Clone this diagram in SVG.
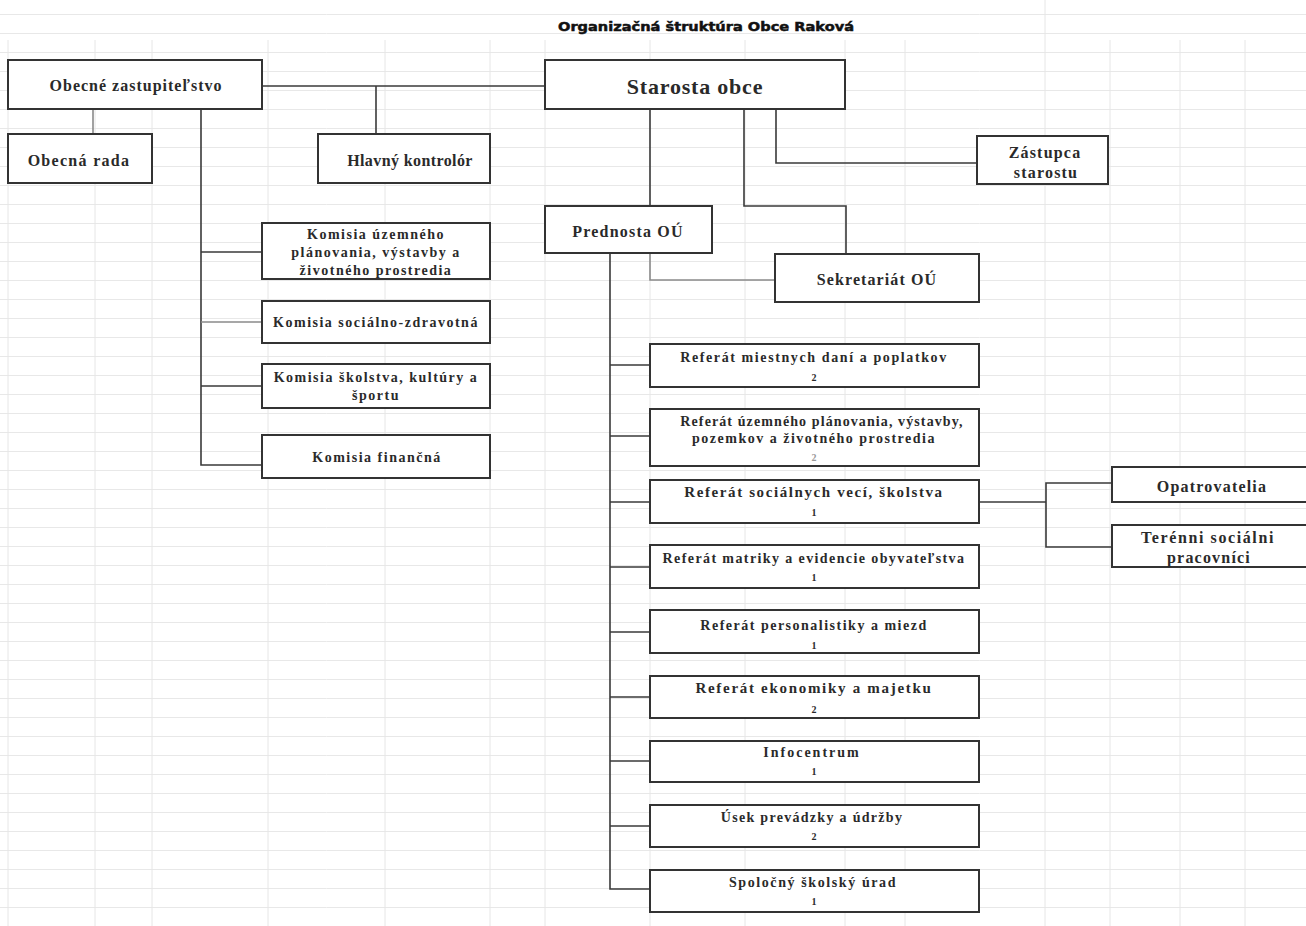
<svg xmlns="http://www.w3.org/2000/svg" width="1306" height="926" viewBox="0 0 1306 926">
<defs>
<pattern id="hgrid" x="0" y="14" width="1306" height="19" patternUnits="userSpaceOnUse">
<line x1="0" y1="0.5" x2="1306" y2="0.5" stroke="#e8e8e8" stroke-width="1"/>
</pattern>
</defs>
<style>
.box{fill:#fff;stroke:#333;stroke-width:2}
.cn{fill:none;stroke:#3a3a3a;stroke-width:1.6}
.cl{fill:none;stroke:#8a8a8a;stroke-width:1.6}
.vg{stroke:#e6e6e6;stroke-width:1}
text{font-family:"Liberation Serif","Times New Roman",serif;font-weight:bold;fill:#2a2a2a;text-anchor:middle;dominant-baseline:central}
.t16{font-size:16px;letter-spacing:1px}
.t22{font-size:22px;letter-spacing:0.8px}
.k14{font-size:14px;letter-spacing:1.5px}
.r14{font-size:14px;letter-spacing:1.5px}
.r15{font-size:15px;letter-spacing:1.6px}
.n{font-size:10px}
.title{font-family:"DejaVu Sans","Liberation Sans",sans-serif;font-size:12.5px;font-weight:900;fill:#111;stroke:#111;stroke-width:0.5}
</style>
<rect width="1306" height="926" fill="#fff"/>
<g id="grid">
<rect x="0" y="0" width="1306" height="926" fill="url(#hgrid)"/>
<line class="vg" x1="8" y1="40" x2="8" y2="926"/>
<line class="vg" x1="95" y1="40" x2="95" y2="926"/>
<line class="vg" x1="152" y1="40" x2="152" y2="926"/>
<line class="vg" x1="268" y1="40" x2="268" y2="926"/>
<line class="vg" x1="385" y1="40" x2="385" y2="926"/>
<line class="vg" x1="490" y1="40" x2="490" y2="926"/>
<line class="vg" x1="545" y1="40" x2="545" y2="926"/>
<line class="vg" x1="650" y1="40" x2="650" y2="926"/>
<line class="vg" x1="745" y1="40" x2="745" y2="926"/>
<line class="vg" x1="845" y1="40" x2="845" y2="926"/>
<line class="vg" x1="905" y1="40" x2="905" y2="926"/>
<line class="vg" x1="1045" y1="0" x2="1045" y2="926"/>
<line class="vg" x1="1110" y1="40" x2="1110" y2="926"/>
<line class="vg" x1="1180" y1="40" x2="1180" y2="926"/>
<line class="vg" x1="1245" y1="40" x2="1245" y2="926"/>
</g>
<text class="title" x="706" y="26" textLength="296" lengthAdjust="spacingAndGlyphs">Organizačná štruktúra Obce Raková</text>
<g id="connectors">
<path class="cn" d="M262 86H545"/>
<path class="cn" d="M376 86V134"/>
<path class="cl" d="M93 109V134"/>
<path class="cn" d="M201 109V465H262"/>
<path class="cn" d="M201 252H262"/>
<path class="cl" d="M201 322H262"/>
<path class="cn" d="M201 386H262"/>
<path class="cn" d="M650 109V206"/>
<path class="cn" d="M744 109V206H846V254"/>
<path class="cn" d="M776 109V163H977"/>
<path class="cl" d="M650 253V280H775"/>
<path class="cn" d="M610 253V889H650"/>
<path class="cn" d="M610 365H650"/>
<path class="cn" d="M610 436H650"/>
<path class="cn" d="M610 502H650"/>
<path class="cn" d="M610 567H650"/>
<path class="cn" d="M610 632H650"/>
<path class="cn" d="M610 697H650"/>
<path class="cn" d="M610 761H650"/>
<path class="cn" d="M610 826H650"/>
<path class="cn" d="M979 502H1046"/>
<path class="cn" d="M1112 483H1046V547H1112"/>
</g>
<g id="n-zastupitelstvo"><rect class="box" x="8" y="60" width="254" height="49"/><text class="t16" x="136" y="85">Obecné zastupiteľstvo</text></g>
<g id="n-starosta"><rect class="box" x="545" y="60" width="300" height="49"/><text class="t22" x="695" y="86">Starosta obce</text></g>
<g id="n-rada"><rect class="box" x="8" y="134" width="144" height="49"/><text class="t16" x="79" y="160" style="letter-spacing:1.3px">Obecná  rada</text></g>
<g id="n-kontrolor"><rect class="box" x="318" y="134" width="172" height="49"/><text class="t16" x="410" y="160" style="letter-spacing:0.4px">Hlavný kontrolór</text></g>
<g id="n-zastupca"><rect class="box" x="977" y="136" width="131" height="48"/><text class="t16" x="1045" y="152" style="letter-spacing:1.2px">Zástupca</text><text class="t16" x="1046" y="172" style="letter-spacing:1.2px">starostu</text></g>
<g id="n-kom-uzemne"><rect class="box" x="262" y="223" width="228" height="56"/><text class="k14" x="376" y="234">Komisia územného</text><text class="k14" x="376" y="252">plánovania, výstavby a</text><text class="k14" x="376" y="270">životného prostredia</text></g>
<g id="n-kom-soc"><rect class="box" x="262" y="301" width="228" height="42"/><text class="k14" x="376" y="322">Komisia sociálno-zdravotná</text></g>
<g id="n-kom-skol"><rect class="box" x="262" y="364" width="228" height="44"/><text class="k14" x="376" y="377">Komisia školstva, kultúry a</text><text class="k14" x="376" y="395">športu</text></g>
<g id="n-kom-fin"><rect class="box" x="262" y="435" width="228" height="43"/><text class="k14" x="377" y="457">Komisia finančná</text></g>
<g id="n-prednosta"><rect class="box" x="545" y="206" width="167" height="47"/><text class="t16" x="628" y="231" style="letter-spacing:1.2px">Prednosta OÚ</text></g>
<g id="n-sekretariat"><rect class="box" x="775" y="254" width="204" height="48"/><text class="t16" x="877" y="279" style="letter-spacing:1.1px">Sekretariát OÚ</text></g>
<g id="n-ref-dane"><rect class="box" x="650" y="344" width="329" height="43"/><text class="r14" x="814" y="357" style="letter-spacing:1.6px">Referát miestnych  daní a poplatkov</text><text class="n" x="814" y="377">2</text></g>
<g id="n-ref-uzemne"><rect class="box" x="650" y="409" width="329" height="57"/><text class="r14" x="822" y="421" style="letter-spacing:1.1px">Referát územného plánovania, výstavby,</text><text class="r14" x="814" y="438">pozemkov a životného prostredia</text><text class="n" x="814" y="457" style="fill:#999">2</text></g>
<g id="n-ref-soc"><rect class="box" x="650" y="480" width="329" height="43"/><text class="r15" x="814" y="492">Referát sociálnych vecí, školstva</text><text class="n" x="814" y="512">1</text></g>
<g id="n-ref-matrika"><rect class="box" x="650" y="545" width="329" height="43"/><text class="r14" x="814" y="558" style="letter-spacing:1.4px">Referát matriky a evidencie obyvateľstva</text><text class="n" x="814" y="577">1</text></g>
<g id="n-ref-pers"><rect class="box" x="650" y="610" width="329" height="43"/><text class="r14" x="814" y="625">Referát personalistiky a miezd</text><text class="n" x="814" y="645">1</text></g>
<g id="n-ref-ekon"><rect class="box" x="650" y="676" width="329" height="42"/><text class="r15" x="814" y="688" style="letter-spacing:1.7px">Referát ekonomiky  a majetku</text><text class="n" x="814" y="709">2</text></g>
<g id="n-infocentrum"><rect class="box" x="650" y="741" width="329" height="41"/><text class="r14" x="812" y="752" style="letter-spacing:2px">Infocentrum</text><text class="n" x="814" y="771">1</text></g>
<g id="n-usek"><rect class="box" x="650" y="805" width="329" height="42"/><text class="r14" x="812" y="817" style="letter-spacing:1.3px">Úsek prevádzky a údržby</text><text class="n" x="814" y="836">2</text></g>
<g id="n-skolsky"><rect class="box" x="650" y="870" width="329" height="42"/><text class="r14" x="813" y="882" style="letter-spacing:1.6px">Spoločný školský úrad</text><text class="n" x="814" y="901">1</text></g>
<g id="n-opatrovatelia"><rect class="box" x="1112" y="467" width="200" height="35"/><text class="t16" x="1212" y="486" style="letter-spacing:1.2px">Opatrovatelia</text></g>
<g id="n-terenni"><rect class="box" x="1112" y="525" width="200" height="42"/><text class="t16" x="1208" y="537" style="letter-spacing:1.6px">Terénni sociálni</text><text class="t16" x="1209" y="557" style="letter-spacing:1.2px">pracovníci</text></g>
</svg>
